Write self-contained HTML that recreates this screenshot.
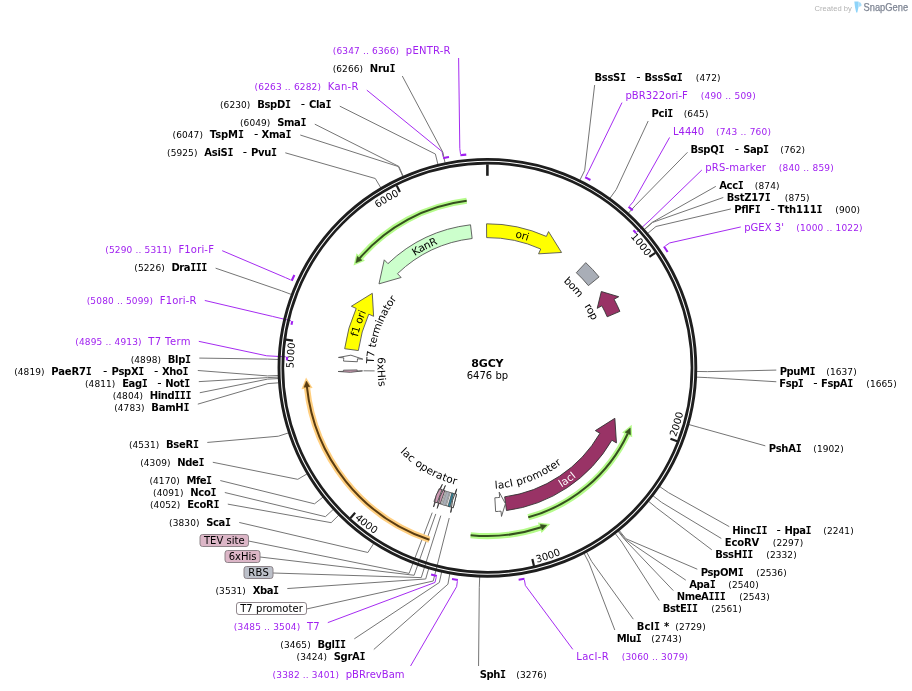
<!DOCTYPE html>
<html><head><meta charset="utf-8"><title>8GCY</title>
<style>html,body{margin:0;padding:0;background:#fff}svg{display:block}.si{font-family:"DejaVu Sans Mono","Liberation Mono",monospace}</style></head>
<body>
<svg width="912" height="691" viewBox="0 0 912 691" font-family="'DejaVu Sans','Liberation Sans',sans-serif">
<rect width="912" height="691" fill="#fff"/>
<polyline points="594.65,85 584.66,170.47 579.89,180.16" fill="none" stroke="#757575" stroke-width="1" stroke-linejoin="round"/>
<polyline points="622,102.62 588.55,171.31 586.04,176.2" fill="none" stroke="#a020f0" stroke-width="0.95" stroke-linejoin="round"/>
<polyline points="648.2,121 616.26,189.49 609.94,198.24" fill="none" stroke="#757575" stroke-width="1" stroke-linejoin="round"/>
<polyline points="669.6,137.44 633.27,201.78 629.64,205.91" fill="none" stroke="#a020f0" stroke-width="0.95" stroke-linejoin="round"/>
<polyline points="687.5,152.29 635.63,205.23 628.35,213.22" fill="none" stroke="#757575" stroke-width="1" stroke-linejoin="round"/>
<polyline points="701.8,170.06 650.99,219.21 636.85,232.05" fill="none" stroke="#a020f0" stroke-width="0.95" stroke-linejoin="round"/>
<polyline points="715.8,186.38 652.39,222.27 644.29,229.41" fill="none" stroke="#757575" stroke-width="1" stroke-linejoin="round"/>
<polyline points="723.3,197.48 652.53,222.43 644.42,229.57" fill="none" stroke="#757575" stroke-width="1" stroke-linejoin="round"/>
<polyline points="730.8,208.98 656.01,226.48 647.73,233.42" fill="none" stroke="#757575" stroke-width="1" stroke-linejoin="round"/>
<polyline points="740.8,226.94 669.73,242.91 665.19,246.02" fill="none" stroke="#a020f0" stroke-width="0.95" stroke-linejoin="round"/>
<polyline points="776.3,370.09 707.37,371.64 696.57,371.45" fill="none" stroke="#757575" stroke-width="1" stroke-linejoin="round"/>
<polyline points="776.3,381.75 707.18,377.62 696.39,377.13" fill="none" stroke="#757575" stroke-width="1" stroke-linejoin="round"/>
<polyline points="765.3,445.83 699.16,427.45 688.76,424.52" fill="none" stroke="#757575" stroke-width="1" stroke-linejoin="round"/>
<polyline points="729.3,526.65 668.54,492.65 659.65,486.52" fill="none" stroke="#757575" stroke-width="1" stroke-linejoin="round"/>
<polyline points="721.3,538.46 661.49,502.31 652.95,495.7" fill="none" stroke="#757575" stroke-width="1" stroke-linejoin="round"/>
<polyline points="711.8,549.82 656.83,508.14 648.51,501.25" fill="none" stroke="#757575" stroke-width="1" stroke-linejoin="round"/>
<polyline points="697.3,569.21 625.92,538.71 619.12,530.32" fill="none" stroke="#757575" stroke-width="1" stroke-linejoin="round"/>
<polyline points="685.8,580.16 625.26,539.25 618.49,530.83" fill="none" stroke="#757575" stroke-width="1" stroke-linejoin="round"/>
<polyline points="673.3,590.59 624.76,539.65 618.02,531.21" fill="none" stroke="#757575" stroke-width="1" stroke-linejoin="round"/>
<polyline points="659.3,600.47 621.74,542.02 615.14,533.47" fill="none" stroke="#757575" stroke-width="1" stroke-linejoin="round"/>
<polyline points="633.3,619.18 591.68,561.51 586.56,552" fill="none" stroke="#757575" stroke-width="1" stroke-linejoin="round"/>
<polyline points="614.81,630 589.04,562.91 584.05,553.33" fill="none" stroke="#757575" stroke-width="1" stroke-linejoin="round"/>
<polyline points="572.8,649.35 525.38,585.51 524.43,580.09" fill="none" stroke="#a020f0" stroke-width="0.95" stroke-linejoin="round"/>
<polyline points="478.56,666 479.29,587.65 479.69,576.86" fill="none" stroke="#757575" stroke-width="1" stroke-linejoin="round"/>
<polyline points="410.56,666 456.62,586.65 457.39,581.2" fill="none" stroke="#a020f0" stroke-width="0.95" stroke-linejoin="round"/>
<polyline points="373.8,649.46 447.91,584.23 449.85,573.6" fill="none" stroke="#757575" stroke-width="1" stroke-linejoin="round"/>
<polyline points="354.3,638.83 439.34,582.49 441.7,571.95" fill="none" stroke="#757575" stroke-width="1" stroke-linejoin="round"/>
<polyline points="327.8,622.64 434.94,582.48 436.25,577.14" fill="none" stroke="#a020f0" stroke-width="0.95" stroke-linejoin="round"/>
<polyline points="287.3,588.56 425.7,578.97 428.73,568.6" fill="none" stroke="#757575" stroke-width="1" stroke-linejoin="round"/>
<polyline points="239.3,522.47 367.87,552.5 373.74,543.43" fill="none" stroke="#757575" stroke-width="1" stroke-linejoin="round"/>
<polyline points="227.8,504.13 331.16,522.68 338.83,515.08" fill="none" stroke="#757575" stroke-width="1" stroke-linejoin="round"/>
<polyline points="224.8,492.51 325.41,516.66 333.36,509.35" fill="none" stroke="#757575" stroke-width="1" stroke-linejoin="round"/>
<polyline points="220.3,480.56 314.49,503.82 322.98,497.14" fill="none" stroke="#757575" stroke-width="1" stroke-linejoin="round"/>
<polyline points="212.8,462.27 297.77,479.34 307.08,473.86" fill="none" stroke="#757575" stroke-width="1" stroke-linejoin="round"/>
<polyline points="207.3,442.45 278.31,436.23 288.58,432.87" fill="none" stroke="#757575" stroke-width="1" stroke-linejoin="round"/>
<polyline points="197.8,404.15 267.97,383.58 278.74,382.81" fill="none" stroke="#757575" stroke-width="1" stroke-linejoin="round"/>
<polyline points="199.8,392.74 267.69,379.11 278.48,378.55" fill="none" stroke="#757575" stroke-width="1" stroke-linejoin="round"/>
<polyline points="198.8,381.63 267.62,377.62 278.41,377.13" fill="none" stroke="#757575" stroke-width="1" stroke-linejoin="round"/>
<polyline points="197.8,370.49 267.55,375.91 278.34,375.51" fill="none" stroke="#757575" stroke-width="1" stroke-linejoin="round"/>
<polyline points="199.3,358.09 267.57,359.05 278.37,359.48" fill="none" stroke="#757575" stroke-width="1" stroke-linejoin="round"/>
<polyline points="198.8,341.34 266.73,355.8 285.8,356.84" fill="none" stroke="#a020f0" stroke-width="0.95" stroke-linejoin="round"/>
<polyline points="204.8,300.48 272.46,316.39 291.04,320.83" fill="none" stroke="#a020f0" stroke-width="0.95" stroke-linejoin="round"/>
<polyline points="215.6,268.16 281.35,290.71 291.46,294.49" fill="none" stroke="#757575" stroke-width="1" stroke-linejoin="round"/>
<polyline points="222.2,250.68 285.62,277.66 290.64,279.91" fill="none" stroke="#a020f0" stroke-width="0.95" stroke-linejoin="round"/>
<polyline points="285.3,152.8 375.31,178.5 380.81,187.79" fill="none" stroke="#757575" stroke-width="1" stroke-linejoin="round"/>
<polyline points="300.3,135.03 398.45,166.58 402.82,176.46" fill="none" stroke="#757575" stroke-width="1" stroke-linejoin="round"/>
<polyline points="314.8,124.17 398.84,166.41 403.19,176.3" fill="none" stroke="#757575" stroke-width="1" stroke-linejoin="round"/>
<polyline points="339.8,106.16 435.39,154.04 437.94,164.53" fill="none" stroke="#757575" stroke-width="1" stroke-linejoin="round"/>
<polyline points="366.8,90.14 442.05,151.5 443.18,156.89" fill="none" stroke="#a020f0" stroke-width="0.95" stroke-linejoin="round"/>
<polyline points="402.29,76 442.89,152.35 445.07,162.93" fill="none" stroke="#757575" stroke-width="1" stroke-linejoin="round"/>
<polyline points="458.62,58 459.81,148.53 460.5,153.99" fill="none" stroke="#a020f0" stroke-width="0.95" stroke-linejoin="round"/>
<polyline points="248.5,541 409.1,573.39 432.23,512.65" fill="none" stroke="#757575" stroke-width="1"/>
<polyline points="260,557 414.14,575.25 435.79,513.95" fill="none" stroke="#757575" stroke-width="1"/>
<polyline points="273,573 421.24,577.62 440.79,515.63" fill="none" stroke="#757575" stroke-width="1"/>
<polyline points="306.5,609 433.21,581.02 449.22,518.02" fill="none" stroke="#757575" stroke-width="1"/>
<circle cx="487.4" cy="367.8" r="208.4" fill="none" stroke="#1e1e1e" stroke-width="2.9"/>
<circle cx="487.4" cy="367.8" r="204.6" fill="none" stroke="#1e1e1e" stroke-width="2.7"/>
<line x1="487.4" y1="164.3" x2="487.4" y2="175.8" stroke="#1e1e1e" stroke-width="2.6"/>
<line x1="655.29" y1="252.8" x2="649.35" y2="256.87" stroke="#1e1e1e" stroke-width="2.2"/>
<path id="tp1" d="M539.48,181.13 A193.8,193.8 0 0 1 646.17,256.67" fill="none"/>
<text font-size="10" fill="#000" text-anchor="end"><textPath href="#tp1" startOffset="100%">1000</textPath></text>
<line x1="677.15" y1="441.32" x2="670.44" y2="438.72" stroke="#1e1e1e" stroke-width="2.2"/>
<path id="tp2" d="M676.05,437.18 A201,201 0 0 0 677.65,302.96" fill="none"/>
<text font-size="10" fill="#000"><textPath href="#tp2" startOffset="0">2000</textPath></text>
<line x1="533.97" y1="565.9" x2="532.33" y2="558.89" stroke="#1e1e1e" stroke-width="2.2"/>
<path id="tp3" d="M536.77,562.64 A201,201 0 0 0 648.41,488.12" fill="none"/>
<text font-size="10" fill="#000"><textPath href="#tp3" startOffset="0">3000</textPath></text>
<line x1="350.29" y1="518.17" x2="355.14" y2="512.85" stroke="#1e1e1e" stroke-width="2.2"/>
<path id="tp4" d="M354.55,518.64 A201,201 0 0 0 479.13,568.63" fill="none"/>
<text font-size="10" fill="#000"><textPath href="#tp4" startOffset="0">4000</textPath></text>
<line x1="285.86" y1="339.66" x2="292.99" y2="340.65" stroke="#1e1e1e" stroke-width="2.2"/>
<path id="tp5" d="M323.14,470.64 A193.8,193.8 0 0 1 295.2,342.94" fill="none"/>
<text font-size="10" fill="#000" text-anchor="end"><textPath href="#tp5" startOffset="100%">5000</textPath></text>
<line x1="396.72" y1="185.62" x2="399.93" y2="192.06" stroke="#1e1e1e" stroke-width="2.2"/>
<path id="tp6" d="M309.73,290.4 A193.8,193.8 0 0 1 399.29,195.19" fill="none"/>
<text font-size="10" fill="#000" text-anchor="end"><textPath href="#tp6" startOffset="100%">6000</textPath></text>
<path d="M585.17,177.22 A214.2,214.2 0 0 1 590.43,180.01" fill="none" stroke="#a020f0" stroke-width="2.1"/>
<path d="M628.56,206.69 A214.2,214.2 0 0 1 632.67,210.39" fill="none" stroke="#a020f0" stroke-width="2.1"/>
<path d="M633.38,230.21 A200.6,200.6 0 0 1 635.89,232.93" fill="none" stroke="#a020f0" stroke-width="2.1"/>
<path d="M663.95,246.51 A214.2,214.2 0 0 1 667.59,251.98" fill="none" stroke="#a020f0" stroke-width="2.1"/>
<path d="M524.5,578.76 A214.2,214.2 0 0 1 518.63,579.71" fill="none" stroke="#a020f0" stroke-width="2.1"/>
<path d="M457.87,579.95 A214.2,214.2 0 0 1 451.99,579.05" fill="none" stroke="#a020f0" stroke-width="2.1"/>
<path d="M436.85,575.95 A214.2,214.2 0 0 1 431.09,574.47" fill="none" stroke="#a020f0" stroke-width="2.1"/>
<path d="M286.94,360.41 A200.6,200.6 0 0 1 287.1,356.91" fill="none" stroke="#a020f0" stroke-width="2.1"/>
<path d="M291.48,324.74 A200.6,200.6 0 0 1 292.3,321.13" fill="none" stroke="#a020f0" stroke-width="2.1"/>
<path d="M291.7,280.71 A214.2,214.2 0 0 1 294.38,274.94" fill="none" stroke="#a020f0" stroke-width="2.1"/>
<path d="M443.15,158.22 A214.2,214.2 0 0 1 448.99,157.07" fill="none" stroke="#a020f0" stroke-width="2.1"/>
<path d="M460.36,155.31 A214.2,214.2 0 0 1 466.27,154.64" fill="none" stroke="#a020f0" stroke-width="2.1"/>
<path d="M466.71,200.78 A168.3,168.3 0 0 0 359.66,258.23" fill="none" stroke="#b5fb8a" stroke-width="6.2"/>
<path d="M357.38,256.27 L355.83,262.85 L361.93,260.18 Z" fill="#b5fb8a" stroke="#b5fb8a" stroke-width="3.2" stroke-linejoin="miter"/>
<path d="M466.71,200.78 A168.3,168.3 0 0 0 359.66,258.23" fill="none" stroke="#36501f" stroke-width="2.0"/>
<path d="M357.38,256.27 L355.83,262.85 L361.93,260.18 Z" fill="#36501f" stroke="#36501f" stroke-width="0.5"/>
<path d="M528.27,517.32 A155,155 0 0 0 627.8,433.47" fill="none" stroke="#b5fb8a" stroke-width="6.2"/>
<path d="M630.52,434.74 L630.24,427.98 L625.09,432.2 Z" fill="#b5fb8a" stroke="#b5fb8a" stroke-width="3.2" stroke-linejoin="miter"/>
<path d="M528.27,517.32 A155,155 0 0 0 627.8,433.47" fill="none" stroke="#36501f" stroke-width="2.0"/>
<path d="M630.52,434.74 L630.24,427.98 L625.09,432.2 Z" fill="#36501f" stroke="#36501f" stroke-width="0.5"/>
<path d="M470.61,535.26 A168.3,168.3 0 0 0 541.18,527.27" fill="none" stroke="#b5fb8a" stroke-width="6.2"/>
<path d="M542.14,530.12 L546.83,525.26 L540.22,524.43 Z" fill="#b5fb8a" stroke="#b5fb8a" stroke-width="3.2" stroke-linejoin="miter"/>
<path d="M470.61,535.26 A168.3,168.3 0 0 0 541.18,527.27" fill="none" stroke="#36501f" stroke-width="2.0"/>
<path d="M542.14,530.12 L546.83,525.26 L540.22,524.43 Z" fill="#36501f" stroke="#36501f" stroke-width="0.5"/>
<path d="M429.44,539.8 A181.5,181.5 0 0 1 306.92,386.97" fill="none" stroke="#ffcf80" stroke-width="6.2"/>
<path d="M303.93,387.29 L306.38,381 L309.9,386.65 Z" fill="#ffcf80" stroke="#ffcf80" stroke-width="3.2" stroke-linejoin="miter"/>
<path d="M429.44,539.8 A181.5,181.5 0 0 1 306.92,386.97" fill="none" stroke="#5a3c10" stroke-width="2.0"/>
<path d="M303.93,387.29 L306.38,381 L309.9,386.65 Z" fill="#5a3c10" stroke="#5a3c10" stroke-width="0.5"/>
<path d="M486.56,223.8 A144,144 0 0 1 546.37,236.43 L548.54,231.59 L561.55,252.48 L538.55,253.85 L540.72,249.02 A130.2,130.2 0 0 0 486.64,237.6 Z" fill="#ffff00" stroke="#555" stroke-width="0.9" stroke-linejoin="miter"/>
<path d="M470.53,224.79 A144,144 0 0 0 387.94,263.67 L384.28,259.84 L378.99,283.87 L401.13,277.48 L397.47,273.65 A130.2,130.2 0 0 1 472.15,238.5 Z" fill="#ccffcc" stroke="#555" stroke-width="0.9" stroke-linejoin="miter"/>
<path d="M344.67,348.72 A144,144 0 0 1 356.2,308.45 L351.37,306.26 L372.3,293.31 L373.6,316.32 L368.77,314.13 A130.2,130.2 0 0 0 358.35,350.54 Z" fill="#ffff00" stroke="#555" stroke-width="0.9" stroke-linejoin="miter"/>
<path d="M585.76,262.63 A144,144 0 0 1 599.09,276.91 L588.39,285.62 A130.2,130.2 0 0 0 576.33,272.71 Z" fill="#a9aeb7" stroke="#555" stroke-width="0.9" stroke-linejoin="miter"/>
<path d="M619.88,311.37 A144,144 0 0 0 614.03,299.23 L618.69,296.71 L601.33,291.53 L597.23,308.33 L601.89,305.81 A130.2,130.2 0 0 1 607.19,316.78 Z" fill="#993366" stroke="#333" stroke-width="0.9" stroke-linejoin="miter"/>
<path d="M506.48,510.53 A144,144 0 0 0 611.87,440.22 L616.45,442.88 L614.85,418.32 L595.36,430.61 L599.94,433.28 A130.2,130.2 0 0 1 504.66,496.85 Z" fill="#993366" stroke="#333" stroke-width="0.9" stroke-linejoin="miter"/>
<path d="M495.64,511.56 A144,144 0 0 0 501,511.16 L501.5,516.43 L505.44,503.71 L499.2,492.14 L499.7,497.42 A130.2,130.2 0 0 1 494.85,497.79 Z" fill="#ffffff" stroke="#555" stroke-width="0.9" stroke-linejoin="miter"/>
<path d="M343.56,361.1 A144,144 0 0 1 343.75,357.82 L338.46,357.45 L350.88,355.18 L362.8,359.14 L357.51,358.78 A130.2,130.2 0 0 0 357.34,361.74 Z" fill="#ffffff" stroke="#555" stroke-width="0.9" stroke-linejoin="miter"/>
<path d="M343.42,370.18 A144,144 0 0 0 343.44,371.36 L338.15,371.49 L350.37,372.32 L362.54,370.89 L357.24,371.02 A130.2,130.2 0 0 1 357.22,369.95 Z" fill="#cc99b2" stroke="#555" stroke-width="0.9" stroke-linejoin="miter"/>
<path d="M453.22,507.68 A144,144 0 0 1 433.94,501.51 L439.07,488.7 A130.2,130.2 0 0 0 456.5,494.28 Z" fill="#ffffff" stroke="#444" stroke-width="0.8" stroke-linejoin="miter"/>
<line x1="450.27789950130267" y1="492.59579181432605" x2="446.3432989876158" y2="505.82299555501504" stroke="#555" stroke-width="0.6"/>
<line x1="445.8228128399948" y1="491.18305194742874" x2="441.4160142009159" y2="504.2605182828705" stroke="#555" stroke-width="0.6"/>
<path d="M453.22,507.68 A144,144 0 0 1 452,507.38 L450.7,512.52 L452.54,500.39 L456.7,488.87 L455.39,494 A130.2,130.2 0 0 0 456.5,494.28 Z" fill="#ffffff" stroke="#333" stroke-width="0.9" stroke-linejoin="miter"/>
<path d="M450.11,506.89 A144,144 0 0 1 447.95,506.29 L451.73,493.02 A130.2,130.2 0 0 0 453.68,493.56 Z" fill="#31849b" stroke="#333" stroke-width="0.6" stroke-linejoin="miter"/>
<path d="M445.54,505.58 A144,144 0 0 1 442.34,504.57 L446.66,491.46 A130.2,130.2 0 0 0 449.55,492.38 Z" fill="#a9aeb7" stroke="#666" stroke-width="0.5" stroke-linejoin="miter"/>
<path d="M440.23,503.85 A144,144 0 0 1 438.97,503.41 L437.19,508.4 L440.11,496.48 L445.4,485.43 L443.62,490.42 A130.2,130.2 0 0 0 444.75,490.82 Z" fill="#cc99b2" stroke="#333" stroke-width="0.8" stroke-linejoin="miter"/>
<path d="M437.2,502.77 A144,144 0 0 1 435.44,502.1 L433.53,507.04 L436.26,495 L442.33,484.29 L440.42,489.23 A130.2,130.2 0 0 0 442.01,489.83 Z" fill="#cc99b2" stroke="#333" stroke-width="0.8" stroke-linejoin="miter"/>
<path id="tp7" d="M362.99,310.18 A137.1,137.1 0 0 1 624.01,379.39" fill="none"/>
<text font-size="10.5" fill="#000" text-anchor="middle"><textPath href="#tp7" startOffset="50%"><tspan dy="3.78">ori</tspan></textPath></text>
<path id="tp8" d="M356.57,408.8 A137.1,137.1 0 0 1 596.31,284.53" fill="none"/>
<text font-size="10.5" fill="#000" text-anchor="middle"><textPath href="#tp8" startOffset="50%"><tspan dy="3.78">KanR</tspan></textPath></text>
<path id="tp9" d="M420.93,487.71 A137.1,137.1 0 0 1 508.85,232.39" fill="none"/>
<text font-size="10.5" fill="#000" text-anchor="middle"><textPath href="#tp9" startOffset="50%"><tspan dy="3.78">f1 ori</tspan></textPath></text>
<path id="tp10" d="M391.31,465.59 A137.1,137.1 0 0 0 611.14,308.78" fill="none"/>
<text font-size="10.5" fill="#fff" text-anchor="middle"><textPath href="#tp10" startOffset="50%"><tspan dy="3.78">lacI</tspan></textPath></text>
<path id="tp11" d="M422.63,268.45 A118.6,118.6 0 0 1 582.24,439.01" fill="none"/>
<text font-size="10.5" fill="#000" text-anchor="middle"><textPath href="#tp11" startOffset="50%"><tspan dy="3.78">bom</tspan></textPath></text>
<path id="tp12" d="M450.16,255.2 A118.6,118.6 0 0 1 560.91,460.87" fill="none"/>
<text font-size="10.5" fill="#000" text-anchor="middle"><textPath href="#tp12" startOffset="50%"><tspan dy="3.78">rop</tspan></textPath></text>
<path id="tp13" d="M429.28,469.92 A117.5,117.5 0 0 1 507.09,251.96" fill="none"/>
<text font-size="10.5" fill="#000" text-anchor="middle"><textPath href="#tp13" startOffset="50%"><tspan dy="3.78">T7 terminator</tspan></textPath></text>
<path id="tp14" d="M386.42,427.87 A117.5,117.5 0 0 0 602.84,345.89" fill="none"/>
<text font-size="10.5" fill="#000" text-anchor="middle"><textPath href="#tp14" startOffset="50%"><tspan dy="3.78">lacI promoter</tspan></textPath></text>
<path id="tp15" d="M377.38,326.55 A117.5,117.5 0 0 0 576.68,444.19" fill="none"/>
<text font-size="10.5" fill="#000" text-anchor="middle"><textPath href="#tp15" startOffset="50%"><tspan dy="3.78">lac operator</tspan></textPath></text>
<line x1="363.5" y1="370.8" x2="374.6" y2="370.9" stroke="#757575" stroke-width="1"/>
<path id="tp16" d="M465.02,263.99 A106.2,106.2 0 0 0 472.93,473.01" fill="none"/>
<text font-size="10.5" fill="#000" text-anchor="middle"><textPath href="#tp16" startOffset="50%"><tspan dy="3.78">6xHis</tspan></textPath></text>
<text x="594.45" y="81.15" font-size="10" font-weight="bold" fill="#000" textLength="31.56" lengthAdjust="spacing">BssS<tspan class="si">I</tspan></text>
<text x="636.2" y="81.15" font-size="12" fill="#000">-</text>
<text x="644.45" y="81.15" font-size="10" font-weight="bold" fill="#000" textLength="38.45" lengthAdjust="spacing">BssSα<tspan class="si">I</tspan></text>
<text x="695.8" y="81.15" font-size="9" fill="#000" textLength="24.76" lengthAdjust="spacing">(472)</text>
<text x="625.4" y="99.15" font-size="10" fill="#a020f0" textLength="62.49" lengthAdjust="spacing">pBR322ori-F</text>
<text x="700.8" y="99.15" font-size="9" fill="#a020f0" textLength="54.96" lengthAdjust="spacing">(490 .. 509)</text>
<text x="651.6" y="117.15" font-size="10" font-weight="bold" fill="#000" textLength="21.76" lengthAdjust="spacing">Pci<tspan class="si">I</tspan></text>
<text x="683.7" y="117.15" font-size="9" fill="#000" textLength="24.76" lengthAdjust="spacing">(645)</text>
<text x="673" y="135.15" font-size="10" fill="#a020f0" textLength="31.01" lengthAdjust="spacing">L4440</text>
<text x="716" y="135.15" font-size="9" fill="#a020f0" textLength="54.96" lengthAdjust="spacing">(743 .. 760)</text>
<text x="690.45" y="153.15" font-size="10" font-weight="bold" fill="#000" textLength="33.98" lengthAdjust="spacing">BspQ<tspan class="si">I</tspan></text>
<text x="734.8" y="153.15" font-size="12" fill="#000">-</text>
<text x="743.25" y="153.15" font-size="10" font-weight="bold" fill="#000" textLength="25.84" lengthAdjust="spacing">Sap<tspan class="si">I</tspan></text>
<text x="780.3" y="153.15" font-size="9" fill="#000" textLength="24.76" lengthAdjust="spacing">(762)</text>
<text x="705.2" y="171.15" font-size="10" fill="#a020f0" textLength="60.72" lengthAdjust="spacing">pRS-marker</text>
<text x="778.8" y="171.15" font-size="9" fill="#a020f0" textLength="54.96" lengthAdjust="spacing">(840 .. 859)</text>
<text x="719.2" y="189.15" font-size="10" font-weight="bold" fill="#000" textLength="24.61" lengthAdjust="spacing">Acc<tspan class="si">I</tspan></text>
<text x="754.8" y="189.15" font-size="9" fill="#000" textLength="24.76" lengthAdjust="spacing">(874)</text>
<text x="726.7" y="201.15" font-size="10" font-weight="bold" fill="#000" textLength="44.04" lengthAdjust="spacing">BstZ17<tspan class="si">I</tspan></text>
<text x="784.8" y="201.15" font-size="9" fill="#000" textLength="24.76" lengthAdjust="spacing">(875)</text>
<text x="734.25" y="213.15" font-size="10" font-weight="bold" fill="#000" textLength="26.53" lengthAdjust="spacing">PflF<tspan class="si">I</tspan></text>
<text x="770.6" y="213.15" font-size="12" fill="#000">-</text>
<text x="777.85" y="213.15" font-size="10" font-weight="bold" fill="#000" textLength="44.61" lengthAdjust="spacing">Tth111<tspan class="si">I</tspan></text>
<text x="835.3" y="213.15" font-size="9" fill="#000" textLength="24.76" lengthAdjust="spacing">(900)</text>
<text x="744.2" y="231.15" font-size="10" fill="#a020f0" textLength="39.72" lengthAdjust="spacing">pGEX 3&#39;</text>
<text x="796.3" y="231.15" font-size="9" fill="#a020f0" textLength="66.32" lengthAdjust="spacing">(1000 .. 1022)</text>
<text x="779.7" y="375.15" font-size="10" font-weight="bold" fill="#000" textLength="35.83" lengthAdjust="spacing">PpuM<tspan class="si">I</tspan></text>
<text x="826.3" y="375.15" font-size="9" fill="#000" textLength="30.35" lengthAdjust="spacing">(1637)</text>
<text x="779.35" y="387.15" font-size="10" font-weight="bold" fill="#000" textLength="24.51" lengthAdjust="spacing">Fsp<tspan class="si">I</tspan></text>
<text x="813.3" y="387.15" font-size="12" fill="#000">-</text>
<text x="821.05" y="387.15" font-size="10" font-weight="bold" fill="#000" textLength="32.15" lengthAdjust="spacing">FspA<tspan class="si">I</tspan></text>
<text x="866.3" y="387.15" font-size="9" fill="#000" textLength="30.35" lengthAdjust="spacing">(1665)</text>
<text x="768.7" y="452.15" font-size="10" font-weight="bold" fill="#000" textLength="33.1" lengthAdjust="spacing">PshA<tspan class="si">I</tspan></text>
<text x="813.3" y="452.15" font-size="9" fill="#000" textLength="30.35" lengthAdjust="spacing">(1902)</text>
<text x="732.25" y="534.15" font-size="10" font-weight="bold" fill="#000" textLength="35.17" lengthAdjust="spacing">Hinc<tspan class="si">II</tspan></text>
<text x="776.5" y="534.15" font-size="12" fill="#000">-</text>
<text x="784.45" y="534.15" font-size="10" font-weight="bold" fill="#000" textLength="27.09" lengthAdjust="spacing">Hpa<tspan class="si">I</tspan></text>
<text x="823.3" y="534.15" font-size="9" fill="#000" textLength="30.35" lengthAdjust="spacing">(2241)</text>
<text x="724.7" y="546.15" font-size="10" font-weight="bold" fill="#000" textLength="34.51" lengthAdjust="spacing">EcoRV</text>
<text x="772.8" y="546.15" font-size="9" fill="#000" textLength="30.35" lengthAdjust="spacing">(2297)</text>
<text x="715.2" y="558.15" font-size="10" font-weight="bold" fill="#000" textLength="38.19" lengthAdjust="spacing">BssH<tspan class="si">II</tspan></text>
<text x="766.3" y="558.15" font-size="9" fill="#000" textLength="30.35" lengthAdjust="spacing">(2332)</text>
<text x="700.7" y="576.15" font-size="10" font-weight="bold" fill="#000" textLength="43.03" lengthAdjust="spacing">PspOM<tspan class="si">I</tspan></text>
<text x="756.3" y="576.15" font-size="9" fill="#000" textLength="30.35" lengthAdjust="spacing">(2536)</text>
<text x="689.2" y="588.15" font-size="10" font-weight="bold" fill="#000" textLength="26.49" lengthAdjust="spacing">Apa<tspan class="si">I</tspan></text>
<text x="728.3" y="588.15" font-size="9" fill="#000" textLength="30.35" lengthAdjust="spacing">(2540)</text>
<text x="676.7" y="600.15" font-size="10" font-weight="bold" fill="#000" textLength="49.08" lengthAdjust="spacing">NmeA<tspan class="si">III</tspan></text>
<text x="739.3" y="600.15" font-size="9" fill="#000" textLength="30.35" lengthAdjust="spacing">(2543)</text>
<text x="662.7" y="612.15" font-size="10" font-weight="bold" fill="#000" textLength="35.32" lengthAdjust="spacing">BstE<tspan class="si">II</tspan></text>
<text x="711.3" y="612.15" font-size="9" fill="#000" textLength="30.35" lengthAdjust="spacing">(2561)</text>
<text x="636.7" y="630.15" font-size="10" font-weight="bold" fill="#000" textLength="32.42" lengthAdjust="spacing">Bcl<tspan class="si">I</tspan> *</text>
<text x="675.3" y="630.15" font-size="9" fill="#000" textLength="30.35" lengthAdjust="spacing">(2729)</text>
<text x="616.7" y="642.15" font-size="10" font-weight="bold" fill="#000" textLength="25.1" lengthAdjust="spacing">Mlu<tspan class="si">I</tspan></text>
<text x="651.3" y="642.15" font-size="9" fill="#000" textLength="30.35" lengthAdjust="spacing">(2743)</text>
<text x="576.2" y="660.15" font-size="10" fill="#a020f0" textLength="32.49" lengthAdjust="spacing">LacI-R</text>
<text x="621.8" y="660.15" font-size="9" fill="#a020f0" textLength="66.32" lengthAdjust="spacing">(3060 .. 3079)</text>
<text x="479.7" y="678.15" font-size="10" font-weight="bold" fill="#000" textLength="26.27" lengthAdjust="spacing">Sph<tspan class="si">I</tspan></text>
<text x="516.3" y="678.15" font-size="9" fill="#000" textLength="30.35" lengthAdjust="spacing">(3276)</text>
<text x="345.71" y="678.15" font-size="10" fill="#a020f0" textLength="58.79" lengthAdjust="spacing">pBRrevBam</text>
<text x="338.91" y="678.15" font-size="9" text-anchor="end" fill="#a020f0" textLength="66.32" lengthAdjust="spacing">(3382 .. 3401)</text>
<text x="333.7" y="660.15" font-size="10" font-weight="bold" fill="#000" textLength="31.8" lengthAdjust="spacing">SgrA<tspan class="si">I</tspan></text>
<text x="326.9" y="660.15" font-size="9" text-anchor="end" fill="#000" textLength="30.35" lengthAdjust="spacing">(3424)</text>
<text x="317.48" y="648.15" font-size="10" font-weight="bold" fill="#000" textLength="28.52" lengthAdjust="spacing">Bgl<tspan class="si">II</tspan></text>
<text x="310.68" y="648.15" font-size="9" text-anchor="end" fill="#000" textLength="30.35" lengthAdjust="spacing">(3465)</text>
<text x="306.98" y="630.15" font-size="10" fill="#a020f0" textLength="12.52" lengthAdjust="spacing">T7</text>
<text x="300.18" y="630.15" font-size="9" text-anchor="end" fill="#a020f0" textLength="66.32" lengthAdjust="spacing">(3485 .. 3504)</text>
<text x="252.63" y="594.15" font-size="10" font-weight="bold" fill="#000" textLength="26.37" lengthAdjust="spacing">Xba<tspan class="si">I</tspan></text>
<text x="245.83" y="594.15" font-size="9" text-anchor="end" fill="#000" textLength="30.35" lengthAdjust="spacing">(3531)</text>
<text x="206.26" y="526.15" font-size="10" font-weight="bold" fill="#000" textLength="24.74" lengthAdjust="spacing">Sca<tspan class="si">I</tspan></text>
<text x="199.46" y="526.15" font-size="9" text-anchor="end" fill="#000" textLength="30.35" lengthAdjust="spacing">(3830)</text>
<text x="187.13" y="508.15" font-size="10" font-weight="bold" fill="#000" textLength="32.37" lengthAdjust="spacing">EcoR<tspan class="si">I</tspan></text>
<text x="180.33" y="508.15" font-size="9" text-anchor="end" fill="#000" textLength="30.35" lengthAdjust="spacing">(4052)</text>
<text x="190.22" y="496.15" font-size="10" font-weight="bold" fill="#000" textLength="26.28" lengthAdjust="spacing">Nco<tspan class="si">I</tspan></text>
<text x="183.42" y="496.15" font-size="9" text-anchor="end" fill="#000" textLength="30.35" lengthAdjust="spacing">(4091)</text>
<text x="186.59" y="484.15" font-size="10" font-weight="bold" fill="#000" textLength="25.41" lengthAdjust="spacing">Mfe<tspan class="si">I</tspan></text>
<text x="179.79" y="484.15" font-size="9" text-anchor="end" fill="#000" textLength="30.35" lengthAdjust="spacing">(4170)</text>
<text x="177.35" y="466.15" font-size="10" font-weight="bold" fill="#000" textLength="27.15" lengthAdjust="spacing">Nde<tspan class="si">I</tspan></text>
<text x="170.55" y="466.15" font-size="9" text-anchor="end" fill="#000" textLength="30.35" lengthAdjust="spacing">(4309)</text>
<text x="166.03" y="448.15" font-size="10" font-weight="bold" fill="#000" textLength="32.97" lengthAdjust="spacing">BseR<tspan class="si">I</tspan></text>
<text x="159.23" y="448.15" font-size="9" text-anchor="end" fill="#000" textLength="30.35" lengthAdjust="spacing">(4531)</text>
<text x="151.37" y="411.15" font-size="10" font-weight="bold" fill="#000" textLength="38.13" lengthAdjust="spacing">BamH<tspan class="si">I</tspan></text>
<text x="144.57" y="411.15" font-size="9" text-anchor="end" fill="#000" textLength="30.35" lengthAdjust="spacing">(4783)</text>
<text x="149.85" y="399.15" font-size="10" font-weight="bold" fill="#000" textLength="41.65" lengthAdjust="spacing">Hind<tspan class="si">III</tspan></text>
<text x="143.05" y="399.15" font-size="9" text-anchor="end" fill="#000" textLength="30.35" lengthAdjust="spacing">(4804)</text>
<text x="122.15" y="387.15" font-size="10" font-weight="bold" fill="#000" textLength="25.57" lengthAdjust="spacing">Eag<tspan class="si">I</tspan></text>
<text x="157.3" y="387.15" font-size="12" fill="#000">-</text>
<text x="165.25" y="387.15" font-size="10" font-weight="bold" fill="#000" textLength="24.98" lengthAdjust="spacing">Not<tspan class="si">I</tspan></text>
<text x="115.35" y="387.15" font-size="9" text-anchor="end" fill="#000" textLength="30.35" lengthAdjust="spacing">(4811)</text>
<text x="51.35" y="375.15" font-size="10" font-weight="bold" fill="#000" textLength="40.42" lengthAdjust="spacing">PaeR7<tspan class="si">I</tspan></text>
<text x="103" y="375.15" font-size="12" fill="#000">-</text>
<text x="111.55" y="375.15" font-size="10" font-weight="bold" fill="#000" textLength="32.85" lengthAdjust="spacing">PspX<tspan class="si">I</tspan></text>
<text x="154" y="375.15" font-size="12" fill="#000">-</text>
<text x="161.95" y="375.15" font-size="10" font-weight="bold" fill="#000" textLength="26.68" lengthAdjust="spacing">Xho<tspan class="si">I</tspan></text>
<text x="44.55" y="375.15" font-size="9" text-anchor="end" fill="#000" textLength="30.35" lengthAdjust="spacing">(4819)</text>
<text x="167.86" y="363.15" font-size="10" font-weight="bold" fill="#000" textLength="23.14" lengthAdjust="spacing">Blp<tspan class="si">I</tspan></text>
<text x="161.06" y="363.15" font-size="9" text-anchor="end" fill="#000" textLength="30.35" lengthAdjust="spacing">(4898)</text>
<text x="148.34" y="345.15" font-size="10" fill="#a020f0" textLength="42.16" lengthAdjust="spacing">T7 Term</text>
<text x="141.54" y="345.15" font-size="9" text-anchor="end" fill="#a020f0" textLength="66.32" lengthAdjust="spacing">(4895 .. 4913)</text>
<text x="159.82" y="304.15" font-size="10" fill="#a020f0" textLength="36.68" lengthAdjust="spacing">F1ori-R</text>
<text x="153.02" y="304.15" font-size="9" text-anchor="end" fill="#a020f0" textLength="66.32" lengthAdjust="spacing">(5080 .. 5099)</text>
<text x="171.51" y="271.15" font-size="10" font-weight="bold" fill="#000" textLength="35.79" lengthAdjust="spacing">Dra<tspan class="si">III</tspan></text>
<text x="164.71" y="271.15" font-size="9" text-anchor="end" fill="#000" textLength="30.35" lengthAdjust="spacing">(5226)</text>
<text x="178.42" y="253.15" font-size="10" fill="#a020f0" textLength="35.48" lengthAdjust="spacing">F1ori-F</text>
<text x="171.62" y="253.15" font-size="9" text-anchor="end" fill="#a020f0" textLength="66.32" lengthAdjust="spacing">(5290 .. 5311)</text>
<text x="204.25" y="156.15" font-size="10" font-weight="bold" fill="#000" textLength="29.22" lengthAdjust="spacing">AsiS<tspan class="si">I</tspan></text>
<text x="242.8" y="156.15" font-size="12" fill="#000">-</text>
<text x="251.05" y="156.15" font-size="10" font-weight="bold" fill="#000" textLength="26.01" lengthAdjust="spacing">Pvu<tspan class="si">I</tspan></text>
<text x="197.45" y="156.15" font-size="9" text-anchor="end" fill="#000" textLength="30.35" lengthAdjust="spacing">(5925)</text>
<text x="209.75" y="138.15" font-size="10" font-weight="bold" fill="#000" textLength="34.16" lengthAdjust="spacing">TspM<tspan class="si">I</tspan></text>
<text x="253.9" y="138.15" font-size="12" fill="#000">-</text>
<text x="261.55" y="138.15" font-size="10" font-weight="bold" fill="#000" textLength="29.9" lengthAdjust="spacing">Xma<tspan class="si">I</tspan></text>
<text x="202.95" y="138.15" font-size="9" text-anchor="end" fill="#000" textLength="30.35" lengthAdjust="spacing">(6047)</text>
<text x="277.13" y="126.15" font-size="10" font-weight="bold" fill="#000" textLength="29.37" lengthAdjust="spacing">Sma<tspan class="si">I</tspan></text>
<text x="270.33" y="126.15" font-size="9" text-anchor="end" fill="#000" textLength="30.35" lengthAdjust="spacing">(6049)</text>
<text x="257.15" y="108.15" font-size="10" font-weight="bold" fill="#000" textLength="33.79" lengthAdjust="spacing">BspD<tspan class="si">I</tspan></text>
<text x="300.7" y="108.15" font-size="12" fill="#000">-</text>
<text x="308.95" y="108.15" font-size="10" font-weight="bold" fill="#000" textLength="22.46" lengthAdjust="spacing">Cla<tspan class="si">I</tspan></text>
<text x="250.35" y="108.15" font-size="9" text-anchor="end" fill="#000" textLength="30.35" lengthAdjust="spacing">(6230)</text>
<text x="327.74" y="90.15" font-size="10" fill="#a020f0" textLength="30.76" lengthAdjust="spacing">Kan-R</text>
<text x="320.94" y="90.15" font-size="9" text-anchor="end" fill="#a020f0" textLength="66.32" lengthAdjust="spacing">(6263 .. 6282)</text>
<text x="369.87" y="72.15" font-size="10" font-weight="bold" fill="#000" textLength="25.63" lengthAdjust="spacing">Nru<tspan class="si">I</tspan></text>
<text x="363.07" y="72.15" font-size="9" text-anchor="end" fill="#000" textLength="30.35" lengthAdjust="spacing">(6266)</text>
<text x="405.87" y="54.15" font-size="10" fill="#a020f0" textLength="44.63" lengthAdjust="spacing">pENTR-R</text>
<text x="399.07" y="54.15" font-size="9" text-anchor="end" fill="#a020f0" textLength="66.32" lengthAdjust="spacing">(6347 .. 6366)</text>
<rect x="200" y="534.5" width="48.5" height="12" rx="2.5" fill="#dcb6c7" stroke="#857a80" stroke-width="0.9"/>
<text x="203.91" y="544.15" font-size="10" fill="#000" textLength="40.69" lengthAdjust="spacing">TEV site</text>
<rect x="225" y="550.5" width="35" height="12" rx="2.5" fill="#dcb6c7" stroke="#857a80" stroke-width="0.9"/>
<text x="228.63" y="560.15" font-size="10" fill="#000" textLength="27.74" lengthAdjust="spacing">6xHis</text>
<rect x="244" y="566.5" width="29" height="12" rx="2.5" fill="#bcc0c9" stroke="#857a80" stroke-width="0.9"/>
<text x="248.18" y="576.15" font-size="10" fill="#000" textLength="20.65" lengthAdjust="spacing">RBS</text>
<rect x="236.5" y="602.5" width="70" height="12" rx="2.5" fill="#ffffff" stroke="#857a80" stroke-width="0.9"/>
<text x="240.21" y="612.15" font-size="10" fill="#000" textLength="62.58" lengthAdjust="spacing">T7 promoter</text>
<text x="471.24" y="367" font-size="11" font-weight="bold" fill="#000" textLength="32.32" lengthAdjust="spacing">8GCY</text>
<text x="466.69" y="379.15" font-size="10" fill="#000" textLength="41.42" lengthAdjust="spacing">6476 bp</text>
<text x="814.6" y="10.5" font-size="7.8" fill="#b3b3b3" font-family="'Liberation Sans',sans-serif" textLength="37.2" lengthAdjust="spacingAndGlyphs">Created by</text>
<path d="M854.3,1.5 L858.6,1.5 L858.5,7 L857.3,12.5 L856.2,12.5 L855,7 Z" fill="#8fd4f9"/>
<path d="M858.5,2 L860.4,2.4 Q862,4.2 861.4,6 L858.5,7 Z" fill="#a9defa"/>
<text x="863.5" y="11.1" font-size="10.1" fill="#7f8694" stroke="#7f8694" stroke-width="0.25" font-family="'Liberation Sans',sans-serif" textLength="44.6" lengthAdjust="spacingAndGlyphs">SnapGene</text>
</svg>
</body></html>
